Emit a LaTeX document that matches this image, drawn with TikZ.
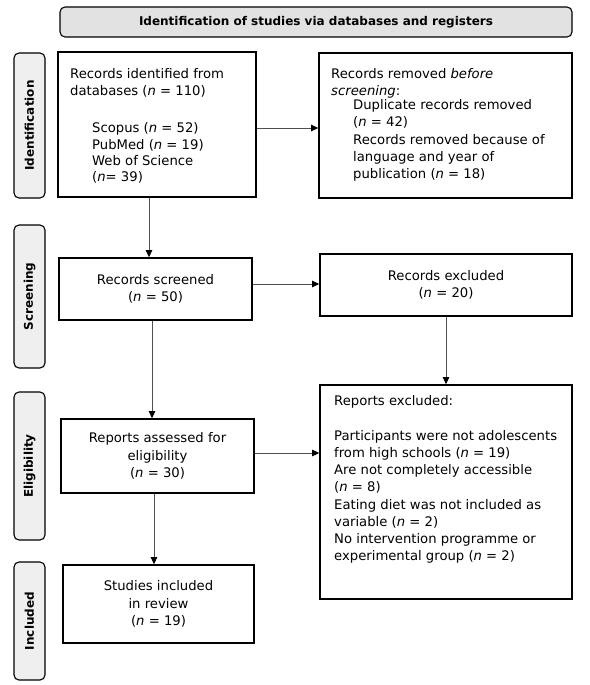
\documentclass[tikz,border=0pt]{standalone}
\usepackage{fontspec}
\setmainfont{DejaVu Sans}
\usetikzlibrary{arrows.meta}
\definecolor{headgray}{HTML}{E2E2E2}
\definecolor{sidegray}{HTML}{EFEFEF}
\definecolor{arrgray}{HTML}{505050}
\newcommand{\txt}{\fontsize{13.2}{17.2}\selectfont}
\newcommand{\bxt}{\fontsize{12}{14}\selectfont\bfseries}
\begin{document}
\begin{tikzpicture}[x=1pt,y=1pt,
  box/.style={draw=black, line width=1.7pt, inner sep=0pt, align=center, font=\txt},
  side/.style={draw=black, line width=1.1pt, rounded corners=5pt, fill=sidegray, inner sep=0pt, rotate=90, font=\bxt},
  lab/.style={inner sep=0pt, align=left, anchor=north west, font=\txt},
  arr/.style={draw=arrgray, line width=0.8pt, -{Triangle[length=7pt,width=6.5pt,color=black]}},
]
\useasboundingbox (0,0) rectangle (589,-685);
\fill[white] (0,0) rectangle (589,-685);

% header
\node[draw=black, line width=1.1pt, rounded corners=5pt, fill=headgray, minimum width=512pt, minimum height=30pt, inner sep=0pt, font=\bxt] (head) at (316,-22) {Identification of studies via databases and registers};

% side labels
\node[side, minimum width=145pt, minimum height=31pt] (sId) at (29.5,-125.5) {Identification};
\node[side, minimum width=143pt, minimum height=31pt] (sScr) at (29.5,-296.5) {Screening};
\node[side, minimum width=148pt, minimum height=31pt] (sElig) at (29.5,-466) {Eligibility};
\node[side, minimum width=118pt, minimum height=31pt] (sIncl) at (29.5,-621) {Included};

% boxes
\node[box, minimum width=198pt, minimum height=145pt] (A) at (157,-124.5) {};
\node[box, minimum width=253pt, minimum height=145pt] (B) at (445.5,-125.5) {};
\node[box, minimum width=193pt, minimum height=62pt] (C) at (155.5,-289) {Records screened\\(\textit{n} = 50)};
\node[box, minimum width=252pt, minimum height=62pt] (D) at (446,-285) {Records excluded\\(\textit{n} = 20)};
\node[box, minimum width=252pt, minimum height=214pt] (E) at (446,-492) {};
\node[box, minimum width=193pt, minimum height=74pt] (F) at (157.5,-456) {Reports assessed for\\eligibility\\(\textit{n} = 30)};
\node[box, minimum width=191pt, minimum height=78pt] (G) at (158.5,-604) {Studies included\\in review\\(\textit{n} = 19)};

% texts in A
\node[lab] (a1) at (70,-68) {Records identified from\\databases (\textit{n} = 110)};
\node[lab, font=\fontsize{13.2}{16.4}\selectfont] (a2) at (92,-122.5) {Scopus (\textit{n} = 52)\\PubMed (\textit{n} = 19)\\Web of Science\\(\textit{n}= 39)};
% texts in B
\node[lab] (b1) at (331,-68) {Records removed \textit{before}\\\textit{screening}:};
\node[lab] (b2) at (353,-99.5) {Duplicate records removed\\(\textit{n} = 42)\\Records removed because of\\language and year of\\publication (\textit{n} = 18)};
% texts in E
\node[lab] (e1) at (334,-395) {Reports excluded:};
\node[lab] (e2) at (334,-430) {Participants were not adolescents\\from high schools (\textit{n} = 19)\\Are not completely accessible\\(\textit{n} = 8)\\Eating diet was not included as\\variable (\textit{n} = 2)\\No intervention programme or\\experimental group (\textit{n} = 2)};

% connectors
\draw[arr] (A.east |- 0,-128) -- (B.west |- 0,-128);
\draw[arr] (A.south -| 149,0) -- (C.north -| 149,0);
\draw[arr] (C.east |- 0,-284) -- (D.west |- 0,-284);
\draw[arr] (D.south -| 446,0) -- (E.north -| 446,0);
\draw[arr] (C.south -| 152,0) -- (F.north -| 152,0);
\draw[arr] (F.east |- 0,-453) -- (E.west |- 0,-453);
\draw[arr] (F.south -| 154,0) -- (G.north -| 154,0);
\end{tikzpicture}
\end{document}
